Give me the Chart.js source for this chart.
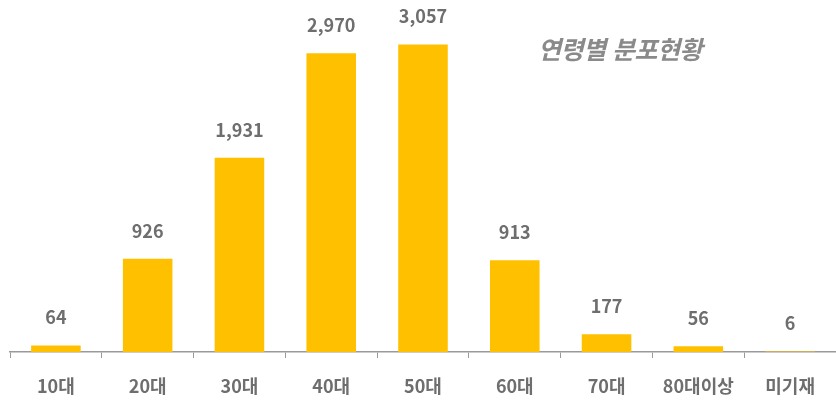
<!DOCTYPE html>
<html lang="ko">
<head>
<meta charset="utf-8">
<script src="https://cdn.jsdelivr.net/npm/chart.js@4/dist/chart.umd.min.js"></script>
<style>
  html, body { margin:0; padding:0; background:#fff; overflow:hidden; }
  #wrap { position:relative; width:836px; height:405px; }
  #title {
    position:absolute; left:538px; top:30px;
    font-family:"Noto Sans CJK KR", sans-serif; font-size:25px; font-weight:700;
    font-style:italic; color:#8a8a8a; letter-spacing:-0.5px;
  }
</style>
</head>
<body>
<div id="wrap">
  <canvas id="c" width="836" height="405"></canvas>
  <div id="title">연령별 분포현황</div>
</div>
<script>
// ===== データ =====
const categories = ['10대','20대','30대','40대','50대','60대','70대','80대이상','미기재'];
const counts = [64, 926, 1931, 2970, 3057, 913, 177, 56, 6];

// 棒の上に数値を書く
const valueLabels = {
  id: 'valueLabels',
  afterDatasetsDraw(chart){
    const ctx = chart.ctx;
    const meta = chart.getDatasetMeta(0);
    ctx.save();
    ctx.font = 'bold 18px "Noto Sans CJK KR", sans-serif';
    ctx.fillStyle = '#6e6e6e';
    ctx.textAlign = 'center';
    ctx.textBaseline = 'bottom';
    meta.data.forEach((bar, i)=>{
      ctx.fillText(counts[i].toLocaleString('en-US'), bar.x, bar.y - 19);
    });
    ctx.restore();
  }
};

new Chart(document.getElementById('c'), {
  type: 'bar',
  data: {
    labels: categories,
    datasets: [{ data: counts, backgroundColor: '#FFC000', barPercentage: 0.54, categoryPercentage: 1 }]
  },
  options: {
    responsive: false,
    animation: false,
    layout: { padding: { left: 10, right: 0, top: 0, bottom: 0 } },
    plugins: { legend: { display:false }, tooltip: { enabled:false } },
    scales: {
      x: {
        afterFit(axis){ axis.height = 53; },
        grid: { drawOnChartArea:false, drawTicks:true, tickLength:6, color:'#9a9a9a' },
        border: { color:'#9a9a9a', width:1.5 },
        ticks: { color:'#6e6e6e', padding:17, font:{ family:'"Noto Sans CJK KR", sans-serif', size:18, weight:'bold' } }
      },
      y: { display:false, min:0, max:3500 }
    }
  },
  plugins: [valueLabels]
});
</script>
</body>
</html>
